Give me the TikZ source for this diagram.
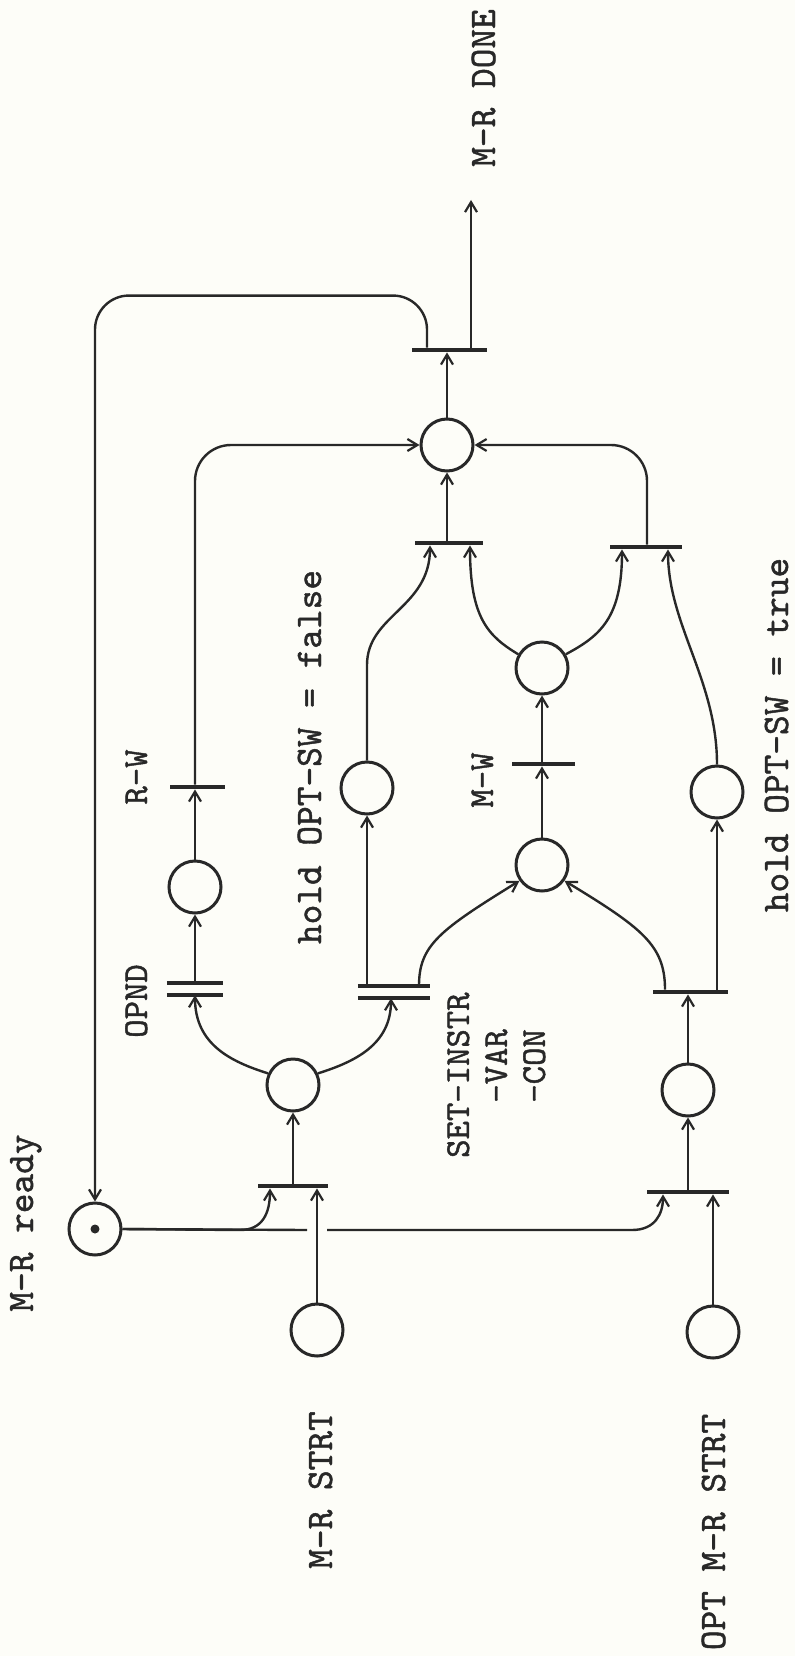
\documentclass[tikz,border=0pt]{standalone}
\usepackage{fontspec}
\newfontfamily\tw[FakeBold=1.2]{lmmono10-regular.otf}
\usetikzlibrary{arrows.meta}
\definecolor{ink}{RGB}{40,40,40}
\definecolor{paper}{RGB}{253,253,248}
\tikzset{
  pl/.style={circle, draw=ink, line width=3pt, minimum size=52pt, inner sep=0pt},
  tbar/.style={rectangle, fill=ink, inner sep=0pt, minimum height=4.5pt, minimum width=#1},
  dbar/.style={rectangle, inner sep=0pt, minimum height=12pt, minimum width=#1},
  flow/.style={draw=ink, line width=2.4pt, -{Straight Barb[length=10pt,width=12pt,line width=2.2pt]}},
  wire/.style={draw=ink, line width=2.4pt},
  barline/.style={draw=ink, line width=4.5pt},
  lab/.style={text=ink, font=\tw\fontsize{35}{38}\selectfont, rotate=90, inner sep=0pt, anchor=base},
  biglab/.style={text=ink, font=\tw\fontsize{37.5}{42}\selectfont, rotate=90, inner sep=0pt, anchor=base},
}
\begin{document}
\begin{tikzpicture}[x=1pt,y=-1pt]
\fill[paper] (0,0) rectangle (795,1656);
\useasboundingbox (0,0) rectangle (795,1656);

% places
\node[pl] (Pready) at (95,1229) {};
\fill[ink] (Pready) circle (4.5pt);
\node[pl] (Pstrt) at (317,1330) {};
\node[pl] (Poptstrt) at (713,1332) {};
\node[pl] (P1) at (293,1085) {};
\node[pl] (Popnd) at (195,887) {};
\node[pl] (Phf) at (367,788) {};
\node[pl] (Pmwin) at (542,865) {};
\node[pl] (Pmwout) at (542,668) {};
\node[pl] (Pht) at (717,792) {};
\node[pl] (Popt1) at (688,1090) {};
\node[pl] (Pjoin) at (447,445) {};

% transitions
\node[tbar=70pt] (Tstrt) at (293,1186) {};
\node[tbar=82pt] (Topt1) at (688,1192) {};
\node[dbar=56pt] (Topnd) at (195,989) {};
\draw[barline] (Topnd.north west) -- (Topnd.north east);
\draw[barline] (Topnd.south west) -- (Topnd.south east);
\node[dbar=72pt] (Tset) at (394,992) {};
\draw[barline] (Tset.north west) -- (Tset.north east);
\draw[barline] (Tset.south west) -- (Tset.south east);
\node[tbar=55pt] (Trw) at (197,787) {};
\node[tbar=63pt] (Tmw) at (543,764) {};
\node[tbar=75pt] (Topt2) at (690,992) {};
\node[tbar=68pt] (Tfalse) at (449,543) {};
\node[tbar=72pt] (Ttrue) at (646,547) {};
\node[tbar=75pt] (Tdone) at (449,350) {};
\coordinate (done) at (471,200);

% M-R ready -> start transitions
\coordinate (gapL) at (307,1230);
\coordinate (gapR) at (327,1230);
\draw[flow] (Pready.east) -- (240,1230) .. controls (262,1230) and (270,1214) .. ([xshift=-23pt]Tstrt.south);
\draw[wire] (Pready.east) -- (gapL);
\draw[flow] (gapR) -- (632,1230) .. controls (655,1230) and (663,1214) .. ([xshift=-25pt]Topt1.south);
\draw[flow] (Pstrt.north) -- (Tstrt.south -| Pstrt.north);
\draw[flow] (Poptstrt.north) -- (Topt1.south -| Poptstrt.north);
\draw[flow] (Tstrt.north -| P1.south) -- (P1.south);
\draw[flow] (Topt1.north -| Popt1.south) -- (Popt1.south);

% M-R strt branch
\draw[flow] (P1.155) .. controls (232,1062) and (195,1045) .. (Topnd.south);
\draw[flow] (P1.25) .. controls (354,1062) and (391,1045) .. ([xshift=-3pt]Tset.south);
\draw[flow] (Topnd.north) -- (Popnd.south);
\draw[flow] (Popnd.north) -- (Trw.south -| Popnd.north);
\draw[flow, rounded corners=36pt] (Trw.north -| Popnd.north) |- (Pjoin.west);
\draw[flow] (Tset.north -| Phf.south) -- (Phf.south);
\draw[flow] ([xshift=25pt]Tset.north) .. controls (419,945) and (440,930) .. (Pmwin.215);

% opt branch
\draw[flow] (Popt1.north) -- (Topt2.south -| Popt1.north);
\draw[flow] ([xshift=-25pt]Topt2.north) .. controls (665,945) and (642,928) .. (Pmwin.325);
\draw[flow] (Topt2.north -| Pht.south) -- (Pht.south);

% M-W
\draw[flow] (Pmwin.north) -- (Tmw.south -| Pmwin.north);
\draw[flow] (Tmw.north -| Pmwout.south) -- (Pmwout.south);

% to join transitions
\draw[flow] (Phf.north) -- (367,665) .. controls (367,615) and (430,608) .. ([xshift=-19pt]Tfalse.south);
\draw[flow] (Pmwout.150) .. controls (488,636) and (470,618) .. ([xshift=21pt]Tfalse.south);
\draw[flow] (Pmwout.30) .. controls (600,636) and (622,618) .. ([xshift=-24pt]Ttrue.south);
\draw[flow] (Pht.north) .. controls (717,680) and (668,625) .. ([xshift=22pt]Ttrue.south);
\draw[flow] (Tfalse.north -| Pjoin.south) -- (Pjoin.south);
\draw[flow, rounded corners=36pt] ([xshift=1pt]Ttrue.north) |- (Pjoin.east);

% done
\draw[flow] (Pjoin.north) -- (Tdone.south -| Pjoin.north);
\draw[flow, rounded corners=34pt] ([xshift=-22pt]Tdone.north) -- ++(0,-52) -| (Pready.north);
\draw[flow] ([xshift=22pt]Tdone.north) -- (done);

% labels
\node[biglab] (lDone) at (495,88) {M-R DONE};
\node[biglab] (lReady) at (33,1223) {M-R ready};
\node[lab] (lOpnd) at (147,1001) {OPND};
\node[lab] (lRW) at (147,777) {R-W};
\node[biglab] (lFalse) at (321,757) {hold OPT-SW = false};
\node[lab, anchor=north west, align=left] (lSet) at (447,1158) {SET-INSTR\\\phantom{SET}-VAR\\\phantom{SET}-CON};
\node[lab] (lMW) at (493,780) {M-W};
\node[biglab] (lTrue) at (788,735) {hold OPT-SW = true};
\node[biglab] (lStrt) at (332,1490) {M-R STRT};
\node[biglab] (lOpt) at (725,1532) {OPT M-R STRT};
\end{tikzpicture}
\end{document}
